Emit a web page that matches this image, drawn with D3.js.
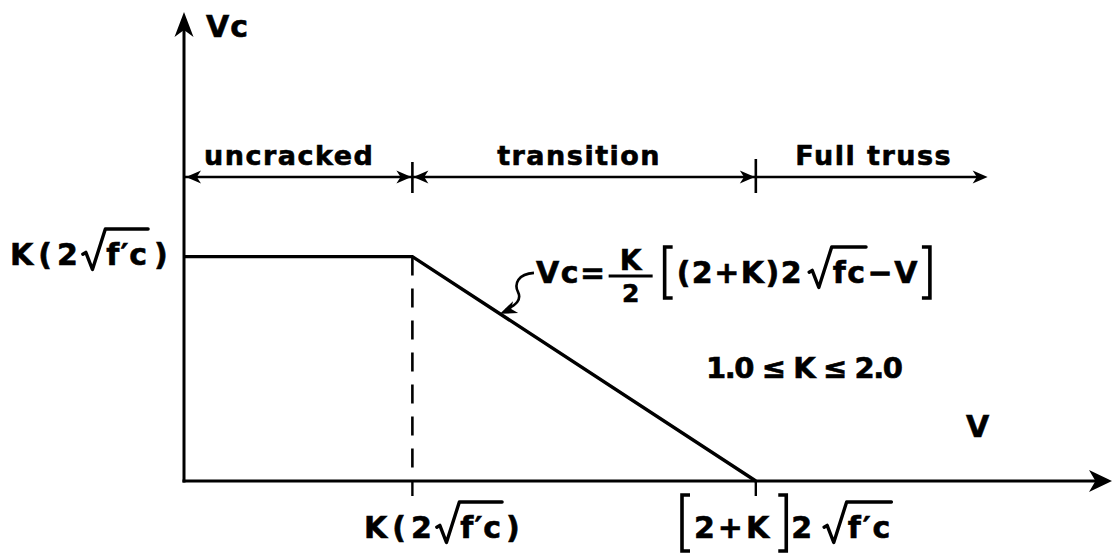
<!DOCTYPE html>
<html>
<head>
<meta charset="utf-8">
<script src="https://cdn.jsdelivr.net/npm/d3@7"></script>
<style>
  html, body { margin: 0; padding: 0; background: #fff; }
  svg { display: block; }
  text { font-family: "DejaVu Sans", sans-serif; font-weight: bold; fill: #000; stroke: #000; stroke-width: 0.6px; }
</style>
</head>
<body>
<svg id="chart" width="1113" height="553"></svg>
<script>
// Vc–V relation, V measured in units of 2√f'c (K taken as 1.33)
const K = 1.33;
const curveV  = [0, 1.33, 3.33];        // uncracked plateau end, zero at (2+K)
const curveVc = [1.33, 1.33, 0];
const vDomain  = [0, 5.41];
const vcDomain = [0, 2.78];
const regionLabels = ["uncracked", "transition", "Full truss"];
const regionEdges  = [0, 1.33, 3.33, 4.68];
const kRange = "1.0 ≤ K ≤ 2.0";

const svg = d3.select("#chart");
const x = d3.scaleLinear().domain(vDomain).range([184, 1113]);
const y = d3.scaleLinear().domain(vcDomain).range([481, 12]);

const g = svg.append("g");

// barbed arrowhead, tip at (tx,ty), pointing along angle (radians)
function arrowHead(tx, ty, ang, len, hw) {
  const pts = [[0, 0], [-len, -hw], [-len * 0.72, 0], [-len, hw]];
  const c = Math.cos(ang), s = Math.sin(ang);
  const p = pts.map(([a, b]) => [tx + a * c - b * s, ty + a * s + b * c]);
  g.append("path")
    .attr("d", "M" + p.map(q => q.join(",")).join("L") + "Z")
    .attr("fill", "#000");
}

// ---- axes ----
const x0 = x(0), y0 = y(0);
g.append("line").attr("x1", x0).attr("y1", y0 + 1.5).attr("x2", x0).attr("y2", y(vcDomain[1]) + 8)
  .attr("stroke", "#000").attr("stroke-width", 3);
arrowHead(x0, y(vcDomain[1]), -Math.PI / 2, 25, 9.5);
g.append("line").attr("x1", x0 - 1.5).attr("y1", y0).attr("x2", x(vDomain[1]) - 8).attr("y2", y0)
  .attr("stroke", "#000").attr("stroke-width", 3);
arrowHead(x(vDomain[1]) - 1, y0, 0, 23, 11);

// ---- Vc curve ----
const pts = curveV.map((v, i) => [x(v), y(curveVc[i])]);
g.append("path")
  .attr("d", d3.line()(pts))
  .attr("fill", "none").attr("stroke", "#000").attr("stroke-width", 3.4)
  .attr("stroke-linejoin", "miter");

// dashed drop line at V = K
g.append("line")
  .attr("x1", x(curveV[1])).attr("x2", x(curveV[1]))
  .attr("y1", y(curveVc[1])).attr("y2", y0)
  .attr("stroke", "#000").attr("stroke-width", 2.6)
  .attr("stroke-dasharray", "19,13");

// ticks below the V axis
[curveV[1], curveV[2]].forEach(v => {
  g.append("line").attr("x1", x(v)).attr("x2", x(v)).attr("y1", y0).attr("y2", y0 + 15)
    .attr("stroke", "#000").attr("stroke-width", 2.4);
});

// ---- region dimension line ----
const dimY = 177;
g.append("line").attr("x1", x(regionEdges[0])).attr("x2", x(regionEdges[3]) - 6)
  .attr("y1", dimY).attr("y2", dimY).attr("stroke", "#000").attr("stroke-width", 2.6);
// boundary ticks
[[regionEdges[1], 162, 193], [regionEdges[2], 159, 193]].forEach(([v, a, b]) => {
  g.append("line").attr("x1", x(v)).attr("x2", x(v)).attr("y1", a).attr("y2", b)
    .attr("stroke", "#000").attr("stroke-width", 2.6);
});
arrowHead(x(regionEdges[0]) + 2, dimY, Math.PI, 15, 6.5);
arrowHead(x(regionEdges[1]) - 1, dimY, 0, 15, 6.5);
arrowHead(x(regionEdges[1]) + 1, dimY, Math.PI, 15, 6.5);
arrowHead(x(regionEdges[2]) - 1, dimY, 0, 15, 6.5);
arrowHead(x(regionEdges[3]), dimY, 0, 15, 6.5);

// region names
const regionDx = [-9, -5, 2];
regionLabels.forEach((name, i) => {
  const cx = (x(regionEdges[i]) + x(regionEdges[i + 1])) / 2 + regionDx[i];
  g.append("text").attr("x", cx).attr("y", 165).attr("text-anchor", "middle")
    .attr("font-size", 27).attr("letter-spacing", 1.5).text(name);
});

// ---- math label layout: text, radicals, fractions, brackets ----
function mathLabel(x0, base, size, parts, ls) {
  let cx = x0;
  parts.forEach(p => {
    if (p.gap) cx += p.gap;
    if (p.t !== undefined) {
      const t = g.append("text").attr("x", cx).attr("y", base).attr("font-size", size)
        .attr("letter-spacing", p.ls !== undefined ? p.ls : ls).text(p.t);
      cx += t.node().getComputedTextLength();
    } else if (p.sqrt !== undefined) {
      const s = size;
      const topY = base - 1.2 * s;
      const tx = cx + 0.75 * s;
      const t = g.append("text").attr("x", tx + 1).attr("y", base).attr("font-size", size)
        .attr("letter-spacing", ls).text(p.sqrt);
      const w = t.node().getComputedTextLength();
      g.append("path")
        .attr("d", `M${cx},${base - 0.36 * s}L${cx + 0.1 * s},${base - 0.42 * s}L${cx + 0.32 * s},${base + 0.15 * s}L${tx},${topY}H${tx + w - ls + 2}`)
        .attr("fill", "none").attr("stroke", "#000").attr("stroke-width", 3.4)
        .attr("stroke-linejoin", "round").attr("stroke-linecap", "round");
      cx = tx + w;
    } else if (p.frac) {
      const w = p.w;
      const mid = cx + w / 2;
      g.append("text").attr("font-size", 28).attr("text-anchor", "middle")
        .attr("x", mid).attr("y", base - 13).text(p.frac[0]);
      g.append("text").attr("font-size", 25).attr("text-anchor", "middle")
        .attr("x", mid).attr("y", base + 19).text(p.frac[1]);
      g.append("line").attr("x1", cx).attr("x2", cx + w).attr("y1", base - 7).attr("y2", base - 7)
        .attr("stroke", "#000").attr("stroke-width", 3.2);
      cx += w;
    } else if (p.br) {
      const [top, bot] = p.span;
      const lx = p.br === "[" ? cx : cx + p.w;
      const rx = p.br === "[" ? cx + p.w : cx;
      g.append("path").attr("d", `M${rx},${top}H${lx}V${bot}H${rx}`)
        .attr("fill", "none").attr("stroke", "#000").attr("stroke-width", 3.6);
      cx += p.w;
    }
  });
  return cx;
}

// axis titles
g.append("text").attr("x", 206).attr("y", 37).attr("font-size", 30).attr("letter-spacing", 1).text("Vc");
g.append("text").attr("x", 966).attr("y", 437).attr("font-size", 30).text("V");

// plateau value on Vc axis
mathLabel(10, 265, 30, [{ t: "K(2", ls: 5 }, { sqrt: "f′c", gap: 0 }, { t: ")", gap: 7 }], 1);

// transition equation with leader
mathLabel(536, 283, 30, [
  { t: "Vc=" },
  { frac: ["K", "2"], w: 44, gap: 2 },
  { br: "[", w: 8, span: [247, 298], gap: 12 },
  { t: "(2+K)2", gap: 4 },
  { sqrt: "fc", gap: 6 },
  { t: "−V", gap: 2 },
  { br: "]", w: 8, span: [247, 298], gap: 3 }
], 1.5);

const leadV = 1.84;
const leadVc = K / 2 * ((2 + K) - leadV);
const lx = x(leadV), ly = y(leadVc);
g.append("path")
  .attr("d", `M${lx + 6},${ly - 4}C${lx + 16},${ly - 9} ${lx + 22},${ly - 14} ${lx + 18},${ly - 22}` +
             `C${lx + 14},${ly - 30} ${lx + 18},${ly - 40} ${lx + 34},${ly - 41}`)
  .attr("fill", "none").attr("stroke", "#000").attr("stroke-width", 2.6);
arrowHead(lx, ly, Math.atan2(6, -14), 17, 6.5);

// K range note
g.append("text").attr("x", 706).attr("y", 378).attr("font-size", 29)
  .attr("textLength", 197).attr("lengthAdjust", "spacing").text(kRange);

// labels under V axis
mathLabel(364, 538, 30, [{ t: "K(2", ls: 5 }, { sqrt: "f′c", gap: 0 }, { t: ")", gap: 5 }], 1);
mathLabel(682, 538, 30, [
  { br: "[", w: 8, span: [495, 551] },
  { t: "2+K", gap: 4, ls: 3 },
  { br: "]", w: 8, span: [495, 551], gap: 6 },
  { t: "2", gap: 5 },
  { sqrt: "f′c", gap: 10 }
], 2);
</script>
</body>
</html>
